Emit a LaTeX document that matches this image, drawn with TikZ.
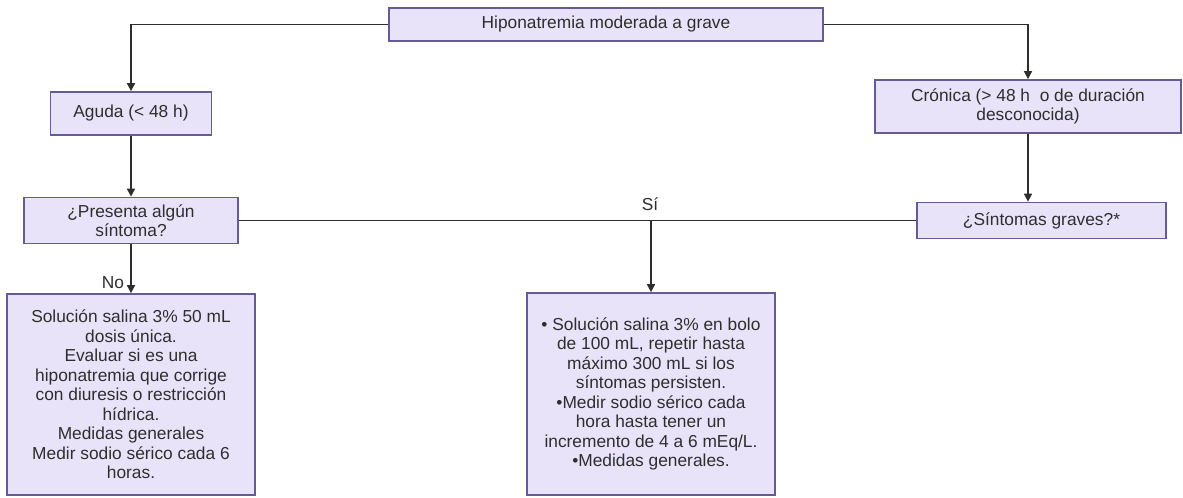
\documentclass[tikz,border=0pt]{standalone}
\usepackage{fontspec}
\setmainfont{Liberation Sans}
\usetikzlibrary{arrows.meta}
\definecolor{boxfill}{HTML}{E8E3F9}
\definecolor{boxline}{HTML}{655A9A}
\definecolor{flowink}{HTML}{2E2E2E}

\begin{document}
\begin{tikzpicture}[x=0.75pt,y=-0.75pt,
  box/.style={draw=boxline,fill=boxfill,line width=1.3pt,align=center,
    text=flowink,font=\fontsize{13}{14.6}\selectfont,inner sep=2pt},
  link/.style={draw=flowink,line width=1.2pt},
  arr/.style={link,-{Triangle[length=6pt,width=6pt]}},
  lbl/.style={text=flowink,font=\fontsize{13}{14.6}\selectfont,inner sep=0pt}]
  \useasboundingbox (0,0) rectangle (1183,497);

  % boxes
  \node[box,minimum width=325.5pt,minimum height=24.75pt] (top) at (606,24.5) {Hiponatremia moderada a grave};
  \node[box,minimum width=120.75pt,minimum height=32.25pt] (aguda) at (131,113.5) {Aguda (< 48 h)};
  \node[box,minimum width=229.5pt,minimum height=39.75pt] (cronica) at (1028,106.5) {Crónica (> 48 h~ o de duración\\desconocida)};
  \node[box,minimum width=160.5pt,minimum height=34.5pt] (presenta) at (131,220.5) {¿Presenta algún\\síntoma?};
  \node[box,minimum width=186.75pt,minimum height=27pt] (graves) at (1041.5,220.5) {¿Síntomas graves?*};
  \node[box,minimum width=186pt,minimum height=150.75pt] (leve) at (131,394.5) {Solución salina 3\% 50 mL\\dosis única.\\Evaluar si es una\\hiponatremia que corrige\\con diuresis o restricción\\hídrica.\\Medidas generales\\Medir sodio sérico cada 6\\horas.};
  \node[box,minimum width=186pt,minimum height=151.5pt] (grave) at (651,394) {• Solución salina 3\% en bolo\\de 100 mL, repetir hasta\\máximo 300 mL si los\\síntomas persisten.\\•Medir sodio sérico cada\\hora hasta tener un\\incremento de 4 a 6 mEq/L.\\•Medidas generales.};

  % connectors
  \draw[arr] (top.west) -| (aguda.north);
  \draw[arr] (top.east) -| (cronica.north);
  \draw[arr] (aguda.south) -- (presenta.north);
  \draw[arr] (cronica.south) -- (cronica.south |- graves.north);
  \draw[link] (presenta.east) -- (graves.west);
  \coordinate (si) at (grave.north |- presenta.east);
  \draw[arr] (si) -- (grave.north);
  \draw[arr] (presenta.south) -- (leve.north);
  \node[lbl] (silbl) at (650,204) {Sí};
  \node[lbl] (nolbl) at (113,283) {No};
\end{tikzpicture}
\end{document}
